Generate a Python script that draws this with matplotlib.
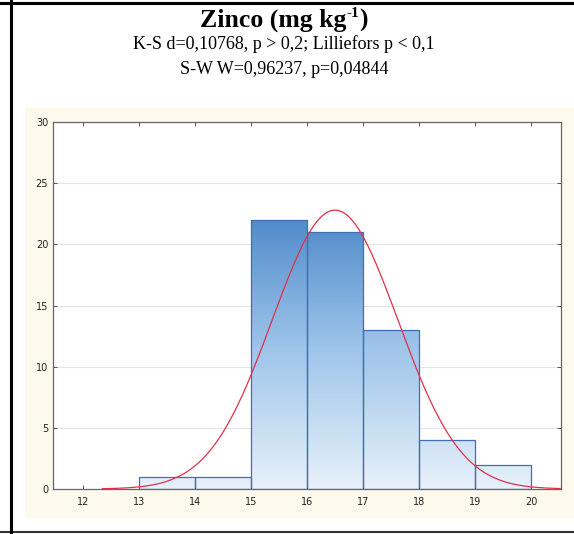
import numpy as np
import matplotlib.pyplot as plt
from matplotlib.patches import Rectangle
from matplotlib.colors import LinearSegmentedColormap

# histogram bins (mg/kg) and counts
bin_edges = [13, 14, 15, 16, 17, 18, 19, 20]
counts = [1, 1, 22, 21, 13, 4, 2]
x_ticks = [12, 13, 14, 15, 16, 17, 18, 19, 20]
y_ticks = [0, 5, 10, 15, 20, 25, 30]

# fitted normal curve parameters
fit_mean = 16.5
fit_sd = 1.12
n_obs = sum(counts)

title_parts = ["Zinco (mg kg", "-1", ")"]
line2 = "K-S d=0,10768, p > 0,2; Lilliefors p < 0,1"
line3 = "S-W W=0,96237, p=0,04844"

fig = plt.figure(figsize=(5.74, 5.34), dpi=100)
W, H = 574, 534

# table-cell borders
fig.add_artist(plt.Line2D([0, 1], [1 - 3 / H, 1 - 3 / H], color="black", lw=2.2))
fig.add_artist(plt.Line2D([0, 1], [1 - 532 / H, 1 - 532 / H], color="#333333", lw=1.5))
fig.add_artist(plt.Line2D([11 / W, 11 / W], [0, 1], color="black", lw=2.2))

# beige panel behind the plot
fig.add_artist(Rectangle((25 / W, 1 - 517 / H), 1 - 25 / W, (517 - 108) / H,
                         transform=fig.transFigure, color="#fdf9ec", zorder=0))

# title built from pieces so the superscript keeps a plain hyphen
serif = "Liberation Serif"
renderer = fig.canvas.get_renderer()
sizes = [18.5, 11, 18.5]
widths = []
for part, fs in zip(title_parts, sizes):
    t = fig.text(0, 0, part, fontsize=fs, family=serif, weight="bold")
    widths.append(t.get_window_extent(renderer).width)
    t.remove()
x = 284 - sum(widths) / 2
base = 1 - 27 / H
for part, fs, w, dy in zip(title_parts, sizes, widths, [0, 10, 0]):
    fig.text(x / W, base + dy / H, part, ha="left", va="baseline",
             fontsize=fs, family=serif, weight="bold")
    x += w

fig.text(284 / W, 1 - 44 / H, line2, ha="center", va="center", fontsize=13,
         family=serif)
fig.text(284 / W, 1 - 69 / H, line3, ha="center", va="center", fontsize=13,
         family=serif)

ax = fig.add_axes([53 / W, 1 - 489 / H, (561 - 53) / W, (489 - 122) / H])
ax.set_facecolor("white")
ax.set_xlim(11.47, 20.53)
ax.set_ylim(0, 30)

for y in y_ticks[1:-1]:
    ax.axhline(y, color="#e4e4e4", lw=0.8, zorder=0)

cmap = LinearSegmentedColormap.from_list("bars", ["#e8f1fb", "#9ec5ea", "#4a86c8"])
grad = np.linspace(0, 1, 256).reshape(-1, 1)
for left, right, c in zip(bin_edges[:-1], bin_edges[1:], counts):
    rect = Rectangle((left, 0), right - left, c, facecolor="none",
                     edgecolor="#3f6fb0", lw=0.9, zorder=3)
    ax.add_patch(rect)
    im = ax.imshow(grad, cmap=cmap, origin="lower", aspect="auto",
                   extent=(11.47, 20.53, 0, 23), vmin=0, vmax=1, zorder=2)
    im.set_clip_path(rect)

xs = np.linspace(12.35, 20.53, 300)
ys = n_obs * np.exp(-0.5 * ((xs - fit_mean) / fit_sd) ** 2) / (fit_sd * np.sqrt(2 * np.pi))
ax.plot(xs, ys, color="#e0304a", lw=0.9, zorder=4)

ax.set_xticks(x_ticks)
ax.set_yticks(y_ticks)
ax.tick_params(axis="both", labelsize=7, colors="#555555", labelcolor="#222222",
               length=3, width=0.7, direction="in", top=True, right=True)
ax.tick_params(axis="x", pad=6)
for s in ax.spines.values():
    s.set_color("#666666")
    s.set_linewidth(0.9)

fig.savefig("out.png", dpi=100)
